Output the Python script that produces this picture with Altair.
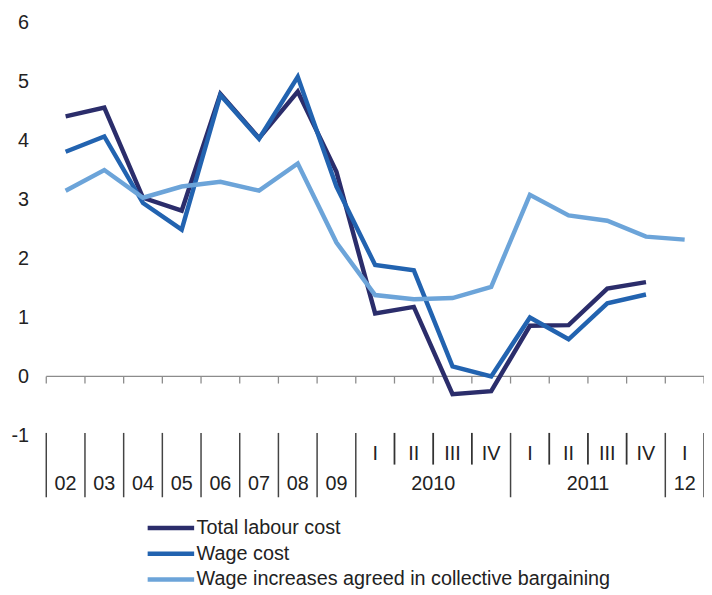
import altair as alt
import pandas as pd

categories = ["02", "03", "04", "05", "06", "07", "08", "09",
              "2010 I", "2010 II", "2010 III", "2010 IV",
              "2011 I", "2011 II", "2011 III", "2011 IV", "2012 I"]
total_labour = [4.41, 4.56, 3.03, 2.81, 4.79, 4.04, 4.83, 3.47,
                1.07, 1.18, -0.30, -0.25, 0.86, 0.87, 1.49, 1.60, None]
wage_cost = [3.81, 4.07, 2.94, 2.49, 4.77, 4.03, 5.08, 3.22,
             1.89, 1.80, 0.17, 0.00, 1.00, 0.63, 1.24, 1.39, None]
agreed = [3.15, 3.50, 3.03, 3.22, 3.30, 3.15, 3.61, 2.27,
          1.38, 1.31, 1.33, 1.52, 3.08, 2.73, 2.64, 2.37, 2.32]

series_names = ["Total labour cost", "Wage cost",
                "Wage increases agreed in collective bargaining"]
series_colors = ["#2b2d6b", "#2263b0", "#6ca4d9"]

quarter_labels = ["I", "II", "III", "IV", "I", "II", "III", "IV", "I"]
quarter_pos = [8.5, 9.5, 10.5, 11.5, 12.5, 13.5, 14.5, 15.5, 16.5]
year_labels = ["02", "03", "04", "05", "06", "07", "08", "09", "2010", "2011", "12"]
year_pos = [0.5, 1.5, 2.5, 3.5, 4.5, 5.5, 6.5, 7.5, 10, 14, 16.5]
long_bounds = [0, 1, 2, 3, 4, 5, 6, 7, 8, 12, 16, 17]
short_bounds = [9, 10, 11, 13, 14, 15]

FONT = "Liberation Sans"
FS = 20

rows = []
for name, vals in zip(series_names, [total_labour, wage_cost, agreed]):
    for i, v in enumerate(vals):
        if v is not None:
            rows.append({"series": name, "cat": categories[i], "x": i + 0.5, "value": v})
df = pd.DataFrame(rows)

xs = alt.Scale(domain=[0, 17], nice=False, zero=False)
ys = alt.Scale(domain=[-2.2, 6], nice=False, zero=False)

# zero axis line
zero_df = pd.DataFrame({"x": [0], "x2": [17], "y": [0]})
zero_line = alt.Chart(zero_df).mark_rule(color="#8c8c8c", strokeWidth=1.3).encode(
    x=alt.X("x:Q", scale=xs, axis=None),
    x2="x2:Q",
    y=alt.Y("y:Q", scale=ys, axis=alt.Axis(values=[-1, 0, 1, 2, 3, 4, 5, 6], title=None,
                                           labelExpr="toString(datum.value)",
                                           domain=False, ticks=False, grid=False,
                                           labelFont=FONT, labelFontSize=FS, labelColor="#222",
                                           labelPadding=18)),
)

tick_df = pd.DataFrame({"x": list(range(18)), "y": [0] * 18, "y2": [-0.12] * 18})
ticks = alt.Chart(tick_df).mark_rule(color="#8c8c8c", strokeWidth=1.3).encode(
    x=alt.X("x:Q", scale=xs), y=alt.Y("y:Q", scale=ys), y2="y2:Q")

long_df = pd.DataFrame({"x": long_bounds, "y": [-0.957] * len(long_bounds),
                        "y2": [-2.048] * len(long_bounds)})
long_sep = alt.Chart(long_df).mark_rule(color="#444", strokeWidth=1.5).encode(
    x=alt.X("x:Q", scale=xs), y=alt.Y("y:Q", scale=ys), y2="y2:Q")

short_df = pd.DataFrame({"x": short_bounds, "y": [-0.957] * len(short_bounds),
                         "y2": [-1.494] * len(short_bounds)})
short_sep = alt.Chart(short_df).mark_rule(color="#333", strokeWidth=1.8).encode(
    x=alt.X("x:Q", scale=xs), y=alt.Y("y:Q", scale=ys), y2="y2:Q")

q_df = pd.DataFrame({"x": quarter_pos, "y": [-1.31] * len(quarter_pos), "t": quarter_labels})
q_text = alt.Chart(q_df).mark_text(font=FONT, fontSize=FS, color="#222", baseline="middle").encode(
    x=alt.X("x:Q", scale=xs), y=alt.Y("y:Q", scale=ys), text="t:N")

y_df = pd.DataFrame({"x": year_pos, "y": [-1.83] * len(year_pos), "t": year_labels})
y_text = alt.Chart(y_df).mark_text(font=FONT, fontSize=FS, color="#222", baseline="middle").encode(
    x=alt.X("x:Q", scale=xs), y=alt.Y("y:Q", scale=ys), text="t:N")

lines = alt.Chart(df).mark_line(strokeWidth=4.5).encode(
    x=alt.X("x:Q", scale=xs),
    y=alt.Y("value:Q", scale=ys),
    color=alt.Color("series:N", sort=series_names,
                    scale=alt.Scale(domain=series_names, range=series_colors),
                    legend=alt.Legend(title=None, orient="none", legendX=100, legendY=498,
                                      symbolType="stroke", symbolSize=2209,
                                      symbolStrokeWidth=4.5, labelFont=FONT,
                                      labelFontSize=FS, labelColor="#222", labelOffset=0,
                                      labelLimit=0,
                                      clipHeight=26, rowPadding=0, padding=0)),
    order="x:Q",
)

chart = alt.layer(zero_line, ticks, long_sep, short_sep, q_text, y_text, lines).properties(
    width=665, height=489,
    padding={"left": 38.7, "top": 11.5, "right": 0, "bottom": 85},
    autosize="none",
).configure_view(stroke=None)

chart.save("out.html", embed_options={"renderer": "svg", "actions": False})
